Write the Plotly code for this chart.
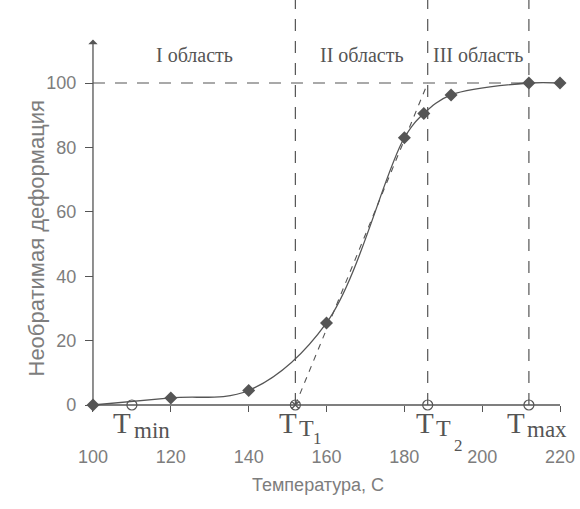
import plotly.graph_objects as go

# Irreversible deformation vs temperature
temperature = [100, 120, 140, 160, 180, 185, 192, 212, 220]
deformation = [0, 2.2, 4.5, 25.5, 83, 90.5, 96.3, 100, 100]

# Characteristic temperatures
t_min, t_t1, t_t2, t_max = 110, 152, 186, 212

x_ticks = [100, 120, 140, 160, 180, 200, 220]
y_ticks = [0, 20, 40, 60, 80, 100]
region_labels = ["I область", "II область", "III область"]

W, H = 580, 509
x_range = [76.11, 225.13]
y_range = [-32.30, 125.78]

ink = "#555555"
grey_text = "#7d7d7d"
sans = "Liberation Sans, Arial, sans-serif"
serif = "Liberation Serif, Times New Roman, serif"

x_pos = (0 - y_range[0]) / (y_range[1] - y_range[0])
y_pos = (100 - x_range[0]) / (x_range[1] - x_range[0])

fig = go.Figure()

# Dashed guides
dash = "12px,10px"
for t in (t_t1, t_t2, t_max):
    fig.add_shape(type="line", x0=t, x1=t, y0=0, y1=y_range[1], xref="x", yref="y",
                  line=dict(color=ink, width=1.2, dash=dash), layer="below")
fig.add_shape(type="line", x0=100, x1=t_max, y0=100, y1=100, xref="x", yref="y",
              line=dict(color=ink, width=1.2, dash=dash), layer="below")
# Tangent through the steep part
fig.add_shape(type="line", x0=t_t1, x1=t_t2, y0=0, y1=100, xref="x", yref="y",
              line=dict(color=ink, width=1.1, dash="6px,6px"), layer="below")

# Axis line along x
fig.add_shape(type="line", x0=100, x1=220, y0=0, y1=0, xref="x", yref="y",
              line=dict(color=ink, width=1.3), layer="below")
# Vertical axis with arrow
fig.add_annotation(x=100, y=113.5, ax=100, ay=0, xref="x", yref="y", axref="x", ayref="y",
                   text="", showarrow=True, arrowhead=1, arrowsize=1.2, arrowwidth=1.3,
                   arrowcolor=ink, standoff=0, startstandoff=0)

fig.add_trace(go.Scatter(
    x=temperature, y=deformation, mode="lines+markers",
    line=dict(shape="spline", smoothing=1, color=ink, width=1.3),
    marker=dict(symbol="diamond", size=10, color=ink),
    hoverinfo="skip", showlegend=False))

fig.add_trace(go.Scatter(
    x=[t_min, t_t1, t_t2, t_max], y=[0, 0, 0, 0], mode="markers",
    marker=dict(symbol=["circle-open", "circle-x-open", "circle-open", "circle-open"],
                size=10, color=ink, line=dict(width=1.2)),
    hoverinfo="skip", showlegend=False))

# Region captions
for label, xc in zip(region_labels, [(100 + t_t1) / 2, (t_t1 + t_t2) / 2, (t_t2 + t_max) / 2]):
    fig.add_annotation(x=xc, y=108.7, xref="x", yref="y", text=label, showarrow=False,
                       font=dict(family=serif, size=20, color=ink))

# Temperature marks below the axis
def mark(x, text, size, anchor, dx, dy):
    fig.add_annotation(x=x, y=0, xref="x", yref="y", text=text, showarrow=False,
                       font=dict(family=serif, size=size, color=ink),
                       xanchor=anchor, yanchor="middle", xshift=dx, yshift=dy)

mark(t_min, "T", 29, "right", 1, -18)
mark(t_min, "min", 23, "left", 0, -25)

mark(t_t1, "T", 29, "right", 4, -18)
mark(t_t1, "T", 24, "left", 2, -23)
mark(t_t1, "1", 17, "left", 16, -33)

mark(t_t2, "T", 29, "right", 8, -18)
mark(t_t2, "T", 24, "left", 6, -23)
mark(t_t2, "2", 17, "left", 24, -40)

mark(t_max, "T", 29, "right", -2, -18)
mark(t_max, "max", 23, "left", -4, -24)

# Axis titles
fig.add_annotation(x=318 / W, y=1 - 497 / H, xref="paper", yref="paper", text="Температура, С",
                   showarrow=False, font=dict(family=sans, size=18, color=grey_text))
fig.add_annotation(x=21 / W, y=1 - 238 / H, xref="paper", yref="paper", text="Необратимая деформация",
                   showarrow=False, textangle=-90, font=dict(family=sans, size=22, color=grey_text))

fig.update_layout(
    width=W, height=H, margin=dict(l=0, r=0, t=0, b=0),
    paper_bgcolor="white", plot_bgcolor="white",
    xaxis=dict(range=x_range, tickvals=x_ticks, ticks="outside", ticklen=6, tickwidth=1.2,
               tickcolor=ink, showline=False, showgrid=False, zeroline=False,
               anchor="free", position=x_pos, ticklabelstandoff=29,
               tickfont=dict(family=sans, size=18, color=grey_text), fixedrange=True),
    yaxis=dict(range=y_range, tickvals=y_ticks, ticks="outside", ticklen=8, tickwidth=1.2,
               tickcolor=ink, showline=False, showgrid=False, zeroline=False,
               anchor="free", position=y_pos, ticklabelstandoff=5,
               tickfont=dict(family=sans, size=18, color=grey_text), fixedrange=True),
)

fig.write_html("out.html")
